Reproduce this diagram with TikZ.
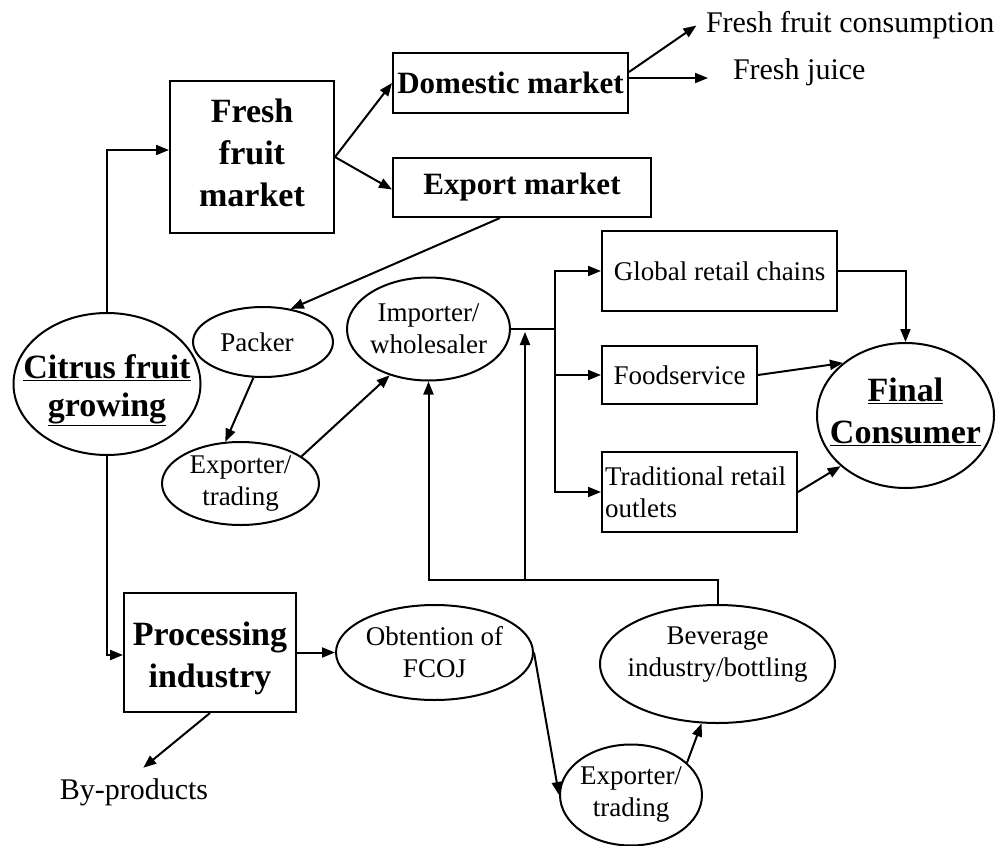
\documentclass[tikz,border=0pt]{standalone}
\usepackage{fontspec}
\setmainfont{Liberation Serif}
\usetikzlibrary{arrows.meta,shapes.geometric,calc}
\begin{document}
\begin{tikzpicture}[x=1pt,y=-1pt,
  line width=2pt,
  box/.style={draw, rectangle, inner sep=0pt, align=center},
  oval/.style={draw, ellipse, inner sep=0pt},
  bigtxt/.style={font=\fontsize{34}{42}\selectfont\bfseries, align=center},
  citrustxt/.style={font=\fontsize{34}{38}\selectfont\bfseries, align=center},
  midtxt/.style={font=\fontsize{31}{36}\selectfont\bfseries, align=center},
  txt/.style={font=\fontsize{27}{32}\selectfont, align=center},
  labtxt/.style={font=\fontsize{30}{34}\selectfont, inner sep=2pt},
  arr/.style={-{Triangle[length=13pt,width=10pt]}},
]
\useasboundingbox (0,0) rectangle (1002,846);

% boxes
\node[box, minimum width=164, minimum height=152,
  label={[bigtxt, yshift=4pt]center:Fresh\\fruit\\market}] (fresh) at (252,157) {};
\node[box, midtxt, minimum width=235, minimum height=60] (domestic) at (510.5,83) {Domestic market};
\node[box, midtxt, minimum width=258, minimum height=59] (export) at (522,187.5) {Export market};
\node[box, txt, minimum width=235, minimum height=80] (global) at (719.5,271) {Global retail chains};
\node[box, txt, minimum width=155, minimum height=58] (food) at (679.5,375) {Foodservice};
\node[box, txt, text width=189, inner xsep=3, align=flush left, minimum height=80] (trad) at (699.5,492) {Traditional retail\\outlets};
\node[box, minimum width=172, minimum height=119,
  label={[bigtxt, yshift=-6pt]center:Processing\\industry}] (proc) at (210,652.5) {};

% ellipses
\node[oval, minimum width=187, minimum height=142,
  label={[citrustxt, yshift=-6pt]center:\underline{Citrus fruit}\\\underline{growing}}] (citrus) at (107,384) {};
\node[oval, minimum width=140, minimum height=70, label={[txt, xshift=-6pt]center:Packer}] (packer) at (263,342) {};
\node[oval, minimum width=157, minimum height=83, label={[txt]center:Exporter/\\trading}] (expA) at (240.5,483.5) {};
\node[oval, minimum width=163, minimum height=103, label={[txt]center:Importer/\\wholesaler}] (importer) at (428.5,329) {};
\node[oval, minimum width=177, minimum height=145,
  label={[bigtxt, yshift=4pt]center:\underline{Final}\\\underline{Consumer}}] (final) at (905.5,415.5) {};
\node[oval, minimum width=197, minimum height=95, label={[txt]center:Obtention of\\FCOJ}] (obt) at (434.5,652.5) {};
\node[oval, minimum width=235, minimum height=118, label={[txt, yshift=9pt]center:Beverage\\industry/bottling}] (bev) at (717.5,664) {};
\node[oval, minimum width=142, minimum height=101, label={[txt]center:Exporter/\\trading}] (expB) at (631,795) {};

% free labels
\node[labtxt, anchor=west] (ffc) at (703,25) {Fresh fruit consumption};
\node[labtxt, anchor=west] (juice) at (730,72) {Fresh juice};
\node[labtxt] (byp) at (134,792) {By-products};

% connectors
\draw[arr] (citrus.north) |- ($(fresh.west)+(0,-7)$);
\draw[arr] (citrus.south) |- ($(proc.west)+(0,2.5)$);
\draw[arr] (fresh.east) -- (domestic.west);
\draw[arr] (fresh.east) -- ($(export.west)+(0,2)$);
\draw[arr, shorten >=8pt] ($(domestic.east)+(0,-11)$) -- ($(ffc.west)+(0,-4)$);
\draw[arr, shorten >=22pt] ($(domestic.east)+(0,-5)$) -- ($(juice.west)+(0,6)$);
\draw[arr] ($(export.south)+(-22,0)$) -- (packer.50);
\draw[arr] (packer.255) -- (expA.110);
\draw[arr] (expA.24) -- (importer.230);
\coordinate (split) at (555,329);
\draw (importer.east) -- (split);
\draw[arr] (split) |- (global.west);
\draw[arr] (split) |- (food.west);
\draw[arr] (split) |- (trad.west);
\draw[arr] (global.east) -| (final.north);
\draw[arr] (food.east) -- (final.140);
\draw[arr] (trad.east) -- (final.218);
\draw[arr] (proc.east) -- (obt.west);
\draw[arr, shorten >=12pt] (proc.south) -- (byp.north);
\draw[arr] (obt.east) -- (expB.west);
\draw[arr] (expB.30) -- (bev.255);
\coordinate (bus) at (717.5,580);
\draw[arr] (bev.north) |- (importer.south |- bus) -- (importer.south);
\coordinate (up2) at (525,580);
\draw[arr, shorten >=3pt] (up2) -- (up2 |- split);
\end{tikzpicture}
\end{document}
